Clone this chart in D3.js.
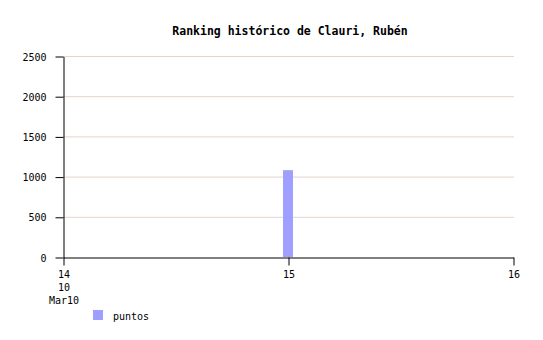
<!DOCTYPE html>
<html>
<head>
<meta charset="utf-8">
<script src="https://cdn.jsdelivr.net/npm/d3@7"></script>
<style>
  body { margin: 0; background: #fff; }
  text { font-family: "DejaVu Sans Mono", monospace; }
</style>
</head>
<body>
<div id="chart"></div>
<script>
const title = "Ranking histórico de Clauri, Rubén";
const days = [14, 15, 16];
const tickLabels = [["14", "10", "Mar10"], ["15"], ["16"]];
const barDays = [15];
const puntos = [1080];
const yTicks = [0, 500, 1000, 1500, 2000, 2500];
const seriesName = "puntos";

const WIDTH = 543, HEIGHT = 340;
const MARGIN = { LEFT: 63, RIGHT: 30, TOP: 56, BOTTOM: 83 };

const svg = d3.select("#chart")
    .append("svg")
    .attr("width", WIDTH)
    .attr("height", HEIGHT);

const x = d3.scaleLinear()
    .domain([14, 16])
    .range([MARGIN.LEFT, WIDTH - MARGIN.RIGHT]);

const y = d3.scaleLinear()
    .domain([0, 2500])
    .range([HEIGHT - MARGIN.BOTTOM, MARGIN.TOP]);

svg.append("text")
    .attr("x", 290)
    .attr("y", 35)
    .attr("text-anchor", "middle")
    .attr("font-size", "11.5px")
    .attr("font-weight", "bold")
    .text(title);

// grid
svg.append("g")
    .selectAll("line")
    .data(yTicks.filter(d => d > 0))
    .enter().append("line")
    .attr("x1", MARGIN.LEFT)
    .attr("x2", WIDTH - MARGIN.RIGHT + 1)
    .attr("y1", d => y(d) + 0.5)
    .attr("y2", d => y(d) + 0.5)
    .attr("stroke", "#e4d4cc")
    .attr("stroke-width", 1);

// bars
svg.append("g")
    .selectAll("rect")
    .data(barDays.map((d, i) => ({ day: d, v: puntos[i] })))
    .enter().append("rect")
    .attr("x", d => x(d.day) - 5)
    .attr("y", d => y(d.v))
    .attr("width", 10)
    .attr("height", d => y(0) - y(d.v))
    .attr("fill", "#9f9fff");

// y axis
const yAxis = d3.axisLeft(y)
    .tickValues(yTicks)
    .tickFormat(d3.format("d"))
    .tickSize(8)
    .tickPadding(9)
    .tickSizeOuter(0);

const gy = svg.append("g")
    .attr("transform", `translate(${MARGIN.LEFT + 0.5}, 0.5)`)
    .call(yAxis);
gy.selectAll("text").attr("font-size", "10px").attr("font-family", "DejaVu Sans Mono, monospace").attr("dy", "0.35em");
gy.select(".domain").attr("stroke", "#000");

// x axis
const xAxis = d3.axisBottom(x)
    .tickValues(days)
    .tickSize(8)
    .tickFormat("")
    .tickSizeOuter(0);

const gx = svg.append("g")
    .attr("transform", `translate(0.5, ${y(0) + 0.5})`)
    .call(xAxis);
gx.select(".domain").attr("stroke", "#000");

days.forEach((d, i) => {
    tickLabels[i].forEach((t, j) => {
        svg.append("text")
            .attr("x", x(d) + 1)
            .attr("y", y(0) + 21 + j * 13)
            .attr("text-anchor", "middle")
            .attr("font-size", "10px")
            .text(t);
    });
});

// legend
svg.append("rect")
    .attr("x", 93)
    .attr("y", 310)
    .attr("width", 10)
    .attr("height", 10)
    .attr("fill", "#9f9fff");

svg.append("text")
    .attr("x", 113)
    .attr("y", 320)
    .attr("font-size", "10px")
    .text(seriesName);
</script>
</body>
</html>
